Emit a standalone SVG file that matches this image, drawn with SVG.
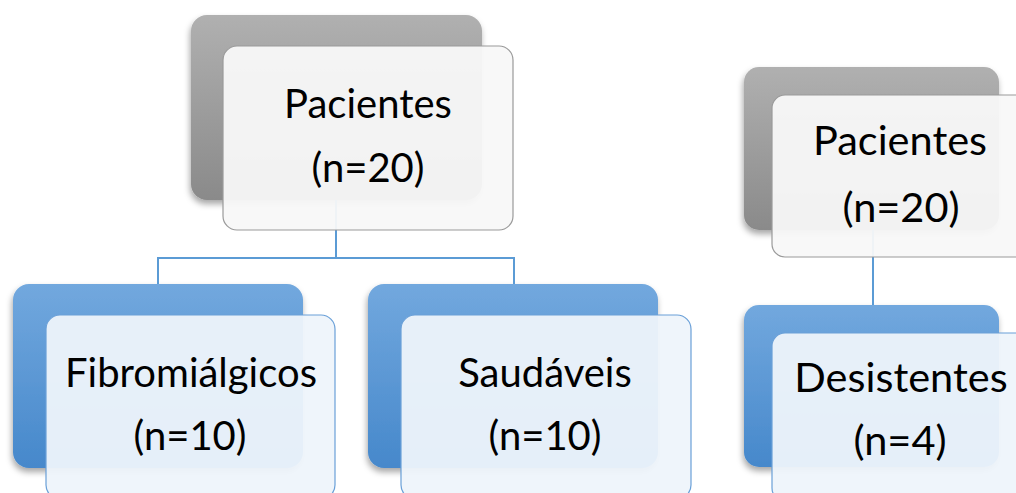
<svg xmlns="http://www.w3.org/2000/svg" width="1016" height="493" viewBox="0 0 1016 493">
<style>
.t{font-family:Lato,"Open Sans","Liberation Sans",sans-serif;font-size:40px;fill:#000;text-anchor:middle}
.t2{font-size:41.5px}
.conn{fill:none;stroke:#5b9bd5;stroke-width:2}
.fg{fill:#f8f8f8;fill-opacity:0.95;stroke:#9a9a9a;stroke-width:1.2}
.fb{fill:#eef4fb;fill-opacity:0.95;stroke:#6aa0d8;stroke-width:1.2}
</style>
<defs>
<linearGradient id="gGray" x1="0" y1="0" x2="0" y2="1">
<stop offset="0" stop-color="#b0b0b0"/><stop offset="1" stop-color="#8a8a8a"/>
</linearGradient>
<linearGradient id="gBlue" x1="0" y1="0" x2="0" y2="1">
<stop offset="0" stop-color="#72a8de"/><stop offset="1" stop-color="#4688cb"/>
</linearGradient>
<filter id="sh" x="-10%" y="-10%" width="120%" height="125%">
<feDropShadow dx="-1" dy="4" stdDeviation="3" flood-color="#000" flood-opacity="0.35"/>
</filter>
</defs>

<g id="back-layer">
<rect x="191" y="15" width="291" height="185" rx="16" fill="url(#gGray)" filter="url(#sh)"/>
<rect x="13" y="284" width="290" height="184" rx="16" fill="url(#gBlue)" filter="url(#sh)"/>
<rect x="368" y="284" width="290" height="184" rx="16" fill="url(#gBlue)" filter="url(#sh)"/>
<rect x="744" y="67" width="255" height="163" rx="15" fill="url(#gGray)" filter="url(#sh)"/>
<rect x="744" y="305" width="255" height="162" rx="15" fill="url(#gBlue)" filter="url(#sh)"/>
</g>

<g id="connectors">
<path class="conn" d="M336 200 V258 H158 V284"/>
<path class="conn" d="M336 258 H514 V284"/>
<path class="conn" d="M873 230 V305"/>
</g>

<g id="node-pacientes">
<rect class="fg" x="223" y="46" width="290" height="184" rx="14"/>
<text class="t" x="368" y="118">Pacientes</text>
<text class="t" x="368" y="182">(n=20)</text>
</g>

<g id="node-fibromialgicos">
<rect class="fb" x="46" y="315" width="289" height="184" rx="14"/>
<text class="t" x="191" y="387">Fibromiálgicos</text>
<text class="t" x="190" y="450">(n=10)</text>
</g>

<g id="node-saudaveis">
<rect class="fb" x="401" y="315" width="290" height="184" rx="14"/>
<text class="t" x="545" y="387">Saudáveis</text>
<text class="t" x="545" y="450">(n=10)</text>
</g>

<g id="node-pacientes-2">
<rect class="fg" x="772" y="95" width="290" height="162" rx="13"/>
<text class="t t2" x="900" y="155">Pacientes</text>
<text class="t t2" x="901" y="222">(n=20)</text>
</g>

<g id="node-desistentes">
<rect class="fb" x="772" y="333" width="290" height="168" rx="13"/>
<text class="t t2" x="901" y="392">Desistentes</text>
<text class="t t2" x="900" y="455">(n=4)</text>
</g>
</svg>
